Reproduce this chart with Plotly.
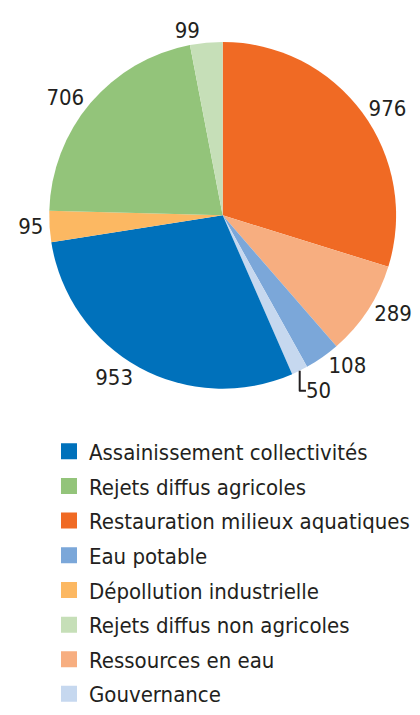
import plotly.graph_objects as go

# Slice order (clockwise from 12 o'clock)
pie_labels = ["Restauration milieux aquatiques", "Ressources en eau", "Eau potable", "Gouvernance",
              "Assainissement collectivités", "Dépollution industrielle", "Rejets diffus agricoles",
              "Rejets diffus non agricoles"]
pie_values = [976, 289, 108, 50, 953, 95, 706, 99]

# Legend order
legend_labels = ["Assainissement collectivités", "Rejets diffus agricoles", "Restauration milieux aquatiques",
                 "Eau potable", "Dépollution industrielle", "Rejets diffus non agricoles",
                 "Ressources en eau", "Gouvernance"]

colors = {
    "Assainissement collectivités": "#0071BB",
    "Rejets diffus agricoles": "#93C47A",
    "Restauration milieux aquatiques": "#F06A24",
    "Eau potable": "#7BA7D9",
    "Dépollution industrielle": "#FCB862",
    "Rejets diffus non agricoles": "#C6DFB8",
    "Ressources en eau": "#F7AE80",
    "Gouvernance": "#C6D8EF",
}

FONT = "DejaVu Sans Condensed, DejaVu Sans, sans-serif"
TXT = "#231F20"

# the page body keeps its default 8px margin, so the figure is 8px smaller
W, H = 412, 707
cx, cy, r = 220, 214, 179

fig = go.Figure()

# Invisible helper pies (hidden under the main pie), one per legend row
legend_layouts = {}
for i, lab in enumerate(legend_labels):
    lname = "legend" if i == 0 else f"legend{i + 1}"
    fig.add_trace(go.Pie(
        labels=[lab], values=[pie_values[pie_labels.index(lab)]], sort=False,
        marker=dict(colors=[colors[lab]], line=dict(color=[colors[lab]], width=4)),
        textinfo="none", hoverinfo="skip", showlegend=True, legend=lname,
        domain=dict(x=[cx / W, cx / W + 0.0001], y=[1 - cy / H, 1 - cy / H + 0.0001]),
    ))
    legend_layouts[lname] = dict(
        x=42 / W, xanchor="left", y=1 - (436 + 35.8 * i) / H, yanchor="top",
        font=dict(family=FONT, size=22, color=TXT),
        bgcolor="rgba(0,0,0,0)",
    )

fig.add_trace(go.Pie(
    labels=pie_labels, values=pie_values, sort=False, direction="clockwise", rotation=0,
    marker=dict(colors=[colors[l] for l in pie_labels], line=dict(width=0)),
    textinfo="value", textposition="outside",
    outsidetextfont=dict(family=FONT, size=22, color=TXT),
    showlegend=False,
    domain=dict(x=[(cx - r) / W, (cx + r) / W], y=[1 - (cy + r) / H, 1 - (cy - r) / H]),
))

fig.update_layout(
    width=W, height=H,
    margin=dict(l=0, r=0, t=0, b=0),
    paper_bgcolor="white",
    font=dict(family=FONT, color=TXT),
    **legend_layouts,
)

fig.write_html("out.html")
